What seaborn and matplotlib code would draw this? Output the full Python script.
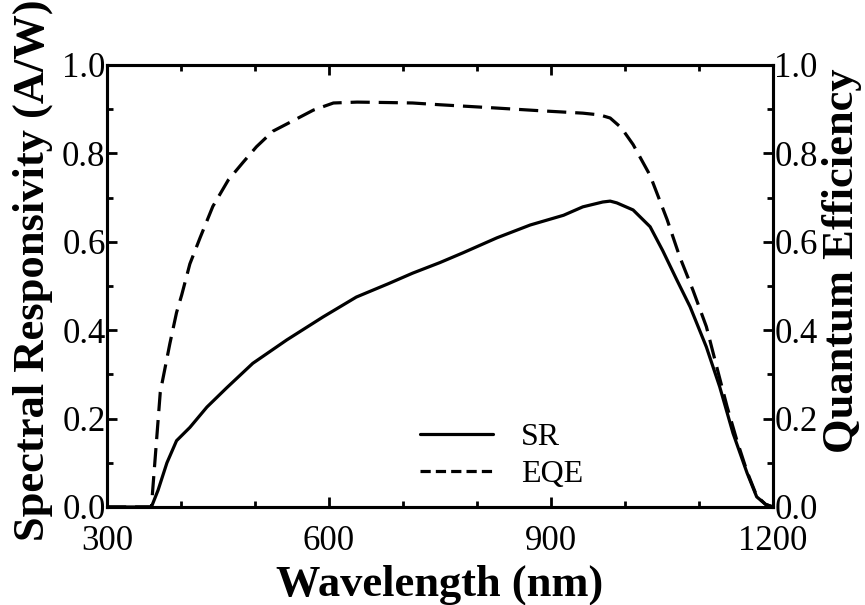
import matplotlib
matplotlib.use("Agg")
import matplotlib.pyplot as plt
import seaborn as sns
import pandas as pd
from matplotlib.ticker import MultipleLocator
from matplotlib.lines import Line2D

# ---- data ----
sr_wl = [300, 360, 369, 381, 394, 412, 435, 462, 497, 543, 592, 637, 680, 713, 750,
         781, 827, 872, 917, 943, 970, 980, 989, 1011, 1034, 1051, 1070, 1088,
         1110, 1128, 1146, 1165, 1178, 1190, 1200]
sr_val = [0.0, 0.0, 0.038, 0.10, 0.15, 0.18, 0.226, 0.27, 0.325, 0.378, 0.43, 0.475, 0.505,
          0.529, 0.553, 0.575, 0.609, 0.638, 0.660, 0.679, 0.690, 0.692, 0.688, 0.672,
          0.634, 0.58, 0.514, 0.453, 0.362, 0.272, 0.167, 0.077, 0.023, 0.006, 0.0]

eqe_wl = [300, 360, 372, 385, 394, 401, 412, 426, 443, 464, 484, 502, 524, 547, 579,
          606, 638, 680, 713, 750, 822, 880, 943, 966, 980, 995, 1011, 1034, 1057, 1074,
          1092, 1110, 1124, 1138, 1151, 1165, 1178, 1190, 1200]
eqe_val = [0.0, 0.0, 0.26, 0.37, 0.44, 0.48, 0.55, 0.61, 0.68, 0.74, 0.78, 0.815, 0.85,
           0.87, 0.898, 0.914, 0.916, 0.915, 0.914, 0.910, 0.903, 0.897, 0.891, 0.887,
           0.880, 0.858, 0.82, 0.75, 0.65, 0.566, 0.49, 0.408, 0.317, 0.227, 0.152, 0.08,
           0.025, 0.006, 0.0]

x_ticks = [300, 600, 900, 1200]
y_ticks = [0.0, 0.2, 0.4, 0.6, 0.8, 1.0]

sr_df = pd.DataFrame({"Wavelength": sr_wl, "Value": sr_val})
eqe_df = pd.DataFrame({"Wavelength": eqe_wl, "Value": eqe_val})

# ---- style ----
sns.set_style("ticks")
plt.rcParams["font.family"] = ["Liberation Serif", "DejaVu Serif"]
plt.rcParams["axes.linewidth"] = 2.2
plt.rcParams["text.color"] = "black"
plt.rcParams["axes.labelcolor"] = "black"
plt.rcParams["xtick.color"] = "black"
plt.rcParams["ytick.color"] = "black"
plt.rcParams["axes.edgecolor"] = "black"

fig = plt.figure(figsize=(8.65, 6.05), dpi=100)
ax = fig.add_axes([0.1237, 0.162, 0.7699, 0.7306])
ax2 = ax.twinx()

lw = 2.3
sns.lineplot(data=sr_df, x="Wavelength", y="Value", ax=ax, color="black", lw=lw)
sns.lineplot(data=eqe_df, x="Wavelength", y="Value", ax=ax2, color="black", lw=lw,
             dashes=False)
ax2.lines[0].set_dashes((6, 2.8))

for a in (ax, ax2):
    a.set_xlim(300, 1200)
    a.set_ylim(0, 1.0)
    a.set_yticks(y_ticks)
    a.yaxis.set_minor_locator(MultipleLocator(0.1))
    a.set_yticklabels([f"{t:.1f}" for t in y_ticks])
ax.set_xticks(x_ticks)
ax.xaxis.set_minor_locator(MultipleLocator(100))

tick_fs = 25
ax.tick_params(axis="both", which="major", direction="in", length=7, width=2,
               labelsize=tick_fs, top=True)
ax.tick_params(axis="x", which="major", pad=13)
ax.tick_params(axis="y", which="major", pad=1)
ax.tick_params(axis="both", which="minor", direction="in", length=4, width=2, top=True)
ax.tick_params(axis="y", which="both", right=False)
ax2.tick_params(axis="y", which="major", direction="in", length=7, width=2,
                labelsize=tick_fs, pad=1)
ax2.tick_params(axis="y", which="minor", direction="in", length=4, width=2)

label_fs = 32
ax.set_xlabel("Wavelength (nm)", fontsize=label_fs, fontweight="bold", labelpad=5)
ax.set_ylabel("Spectral Responsivity (A/W)", fontsize=label_fs, fontweight="bold")
ax2.set_ylabel("Quantum Efficiency", fontsize=label_fs, fontweight="bold")
ax.yaxis.set_label_coords(-0.081, 0.536)
ax2.yaxis.set_label_coords(1.074, 0.556)

for sp in ax2.spines.values():
    sp.set_linewidth(2.2)

handles = [Line2D([], [], color="black", lw=lw),
           Line2D([], [], color="black", lw=lw, dashes=(3.2, 1.6))]
ax.legend(handles, ["SR", "EQE"], loc="lower left", bbox_to_anchor=(0.47, 0.04),
          frameon=False, fontsize=23, handlelength=2.3, handletextpad=0.85,
          labelspacing=0.25, borderpad=0, borderaxespad=0)

fig.savefig("out.png", dpi=100)
